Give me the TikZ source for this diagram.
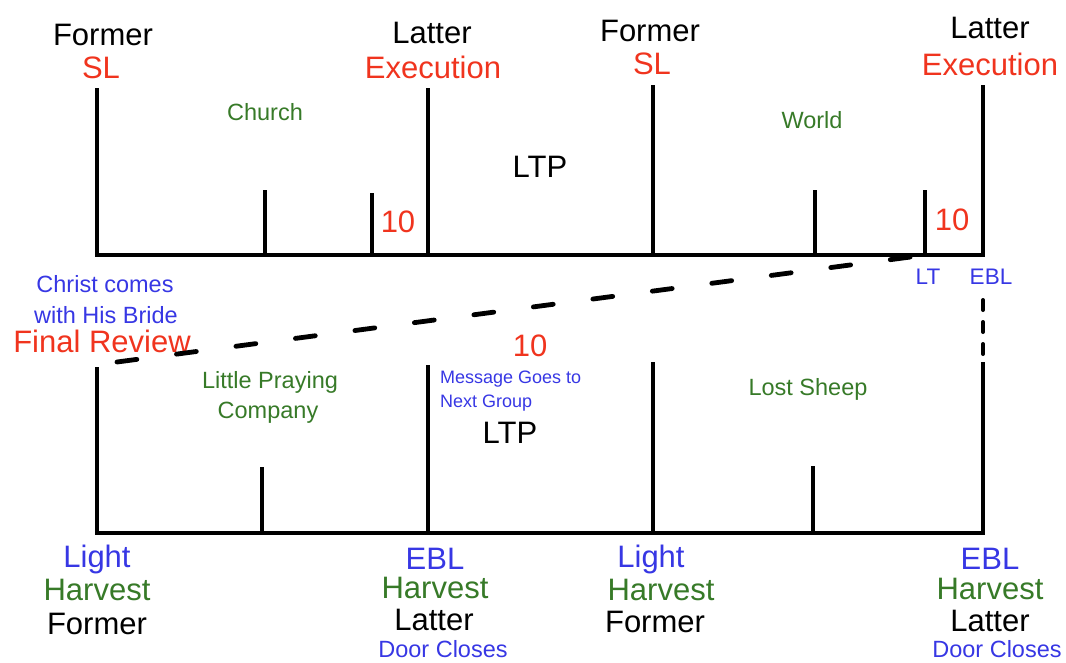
\documentclass[tikz,border=0pt]{standalone}
\usepackage{fontspec}
\setmainfont{Liberation Sans}
\definecolor{lblred}{RGB}{240,52,30}
\definecolor{lblblue}{RGB}{55,55,228}
\definecolor{lblgreen}{RGB}{55,122,40}
\begin{document}
\begin{tikzpicture}[x=1pt,y=-1pt,
  txt/.style={inner sep=0pt, anchor=base},
  big/.style={txt, font=\fontsize{31}{31}\selectfont},
  mid/.style={txt, font=\fontsize{23.5}{23.5}\selectfont},
  small/.style={txt, font=\fontsize{18}{18}\selectfont},
  axis/.style={line width=4.6pt, line join=miter},
  tall/.style={line width=4.6pt},
  tick/.style={line width=4pt},
  lowaxis/.style={line width=4.2pt, line join=miter},
  lowtick/.style={line width=3.6pt},
  link/.style={line width=4.8pt, line cap=round, dash pattern=on 20pt off 40pt},
  gap/.style={line width=4pt, line cap=round, dash pattern=on 10pt off 12pt}]
\useasboundingbox (0,0) rectangle (1066,662);

% ---- upper time line ----
\coordinate (uA) at (97,88);   \coordinate (uA0) at (97,255);
\coordinate (uB) at (428,88);  \coordinate (uB0) at (428,255);
\coordinate (uC) at (653,85);  \coordinate (uC0) at (653,255);
\coordinate (uD) at (983,85);  \coordinate (uD0) at (983,255);
\draw[axis] (uA) -- (uA0) -- (uD0) -- (uD);
\draw[tall] (uB) -- (uB0);
\draw[tall] (uC) -- (uC0);
\foreach \x/\t/\n in {265/190/a, 372/193/b, 815/190/c, 925/190/d}
  \draw[tick] (\x,\t) coordinate (ut\n) -- (\x,255);

\node[big] (f1) at (103,45) {Former};
\node[big, text=lblred] (sl1) at (101,78) {SL};
\node[big] (l1) at (432,43) {Latter};
\node[big, text=lblred] (ex1) at (433,78) {Execution};
\node[big] (f2) at (650,41) {Former};
\node[big, text=lblred] (sl2) at (652,74) {SL};
\node[big] (l2) at (990,38) {Latter};
\node[big, text=lblred] (ex2) at (990,75) {Execution};

\node[mid, text=lblgreen] (church) at (265,120) {Church};
\node[mid, text=lblgreen] (world) at (812,128) {World};
\node[big] (ltp1) at (540,177) {LTP};
\node[big, text=lblred] (ten1) at (398,232) {10};
\node[big, text=lblred] (ten2) at (952,230) {10};
\node[txt, text=lblblue, font=\fontsize{22.5}{22.5}\selectfont] (lt) at (928,284) {LT};
\node[txt, text=lblblue, font=\fontsize{22.5}{22.5}\selectfont] (ebl0) at (991,284) {EBL};

% ---- labels on the left between the lines ----
\node[mid, text=lblblue] (cc1) at (105,292) {Christ comes};
\node[mid, text=lblblue] (cc2) at (106,323) {with His Bride};
\node[big, text=lblred] (fr) at (102,352) {Final Review};

% ---- dashed link from the final review to LT ----
\coordinate (linkS) at (117,362);
\coordinate (linkE) at (918,256);
\draw[link] (linkS) -- (linkE);

% ---- lower time line ----
\coordinate (dA) at (97,367);  \coordinate (dA0) at (97,533);
\coordinate (dB) at (428,365); \coordinate (dB0) at (428,533);
\coordinate (dC) at (653,362); \coordinate (dC0) at (653,533);
\coordinate (dD) at (983,362); \coordinate (dD0) at (983,533);
\draw[lowaxis] (dA) -- (dA0) -- (dD0) -- (dD);
\draw[lowaxis] (dB) -- (dB0);
\draw[lowaxis] (dC) -- (dC0);
\foreach \x/\t/\n in {262/467/a, 813/466/b}
  \draw[lowtick] (\x,\t) coordinate (dt\n) -- (\x,533);
\coordinate (gapS) at (983,300);
\coordinate (gapE) at (983,356);
\draw[gap] (gapS) -- (gapE);

\node[mid, text=lblgreen] (lpc1) at (270,388) {Little Praying};
\node[mid, text=lblgreen] (lpc2) at (268,418) {Company};
\node[big, text=lblred] (ten3) at (530,356) {10};
\node[small, text=lblblue, anchor=base west] (msg1) at (440,383) {Message Goes to};
\node[small, text=lblblue, anchor=base west] (msg2) at (440,407) {Next Group};
\node[big] (ltp2) at (510,443) {LTP};
\node[mid, text=lblgreen] (sheep) at (808,395) {Lost Sheep};

\node[big, text=lblblue] (li1) at (97,567) {Light};
\node[big, text=lblgreen] (hv1) at (97,600) {Harvest};
\node[big] (fo1) at (97,634) {Former};
\node[big, text=lblblue] (eb1) at (435,569) {EBL};
\node[big, text=lblgreen] (hv2) at (435,598) {Harvest};
\node[big] (la1) at (434,630) {Latter};
\node[mid, text=lblblue] (dc1) at (443,657) {Door Closes};
\node[big, text=lblblue] (li2) at (651,567) {Light};
\node[big, text=lblgreen] (hv3) at (661,600) {Harvest};
\node[big] (fo2) at (655,632) {Former};
\node[big, text=lblblue] (eb2) at (990,569) {EBL};
\node[big, text=lblgreen] (hv4) at (990,599) {Harvest};
\node[big] (la2) at (990,631) {Latter};
\node[mid, text=lblblue] (dc2) at (997,657) {Door Closes};
\end{tikzpicture}
\end{document}
